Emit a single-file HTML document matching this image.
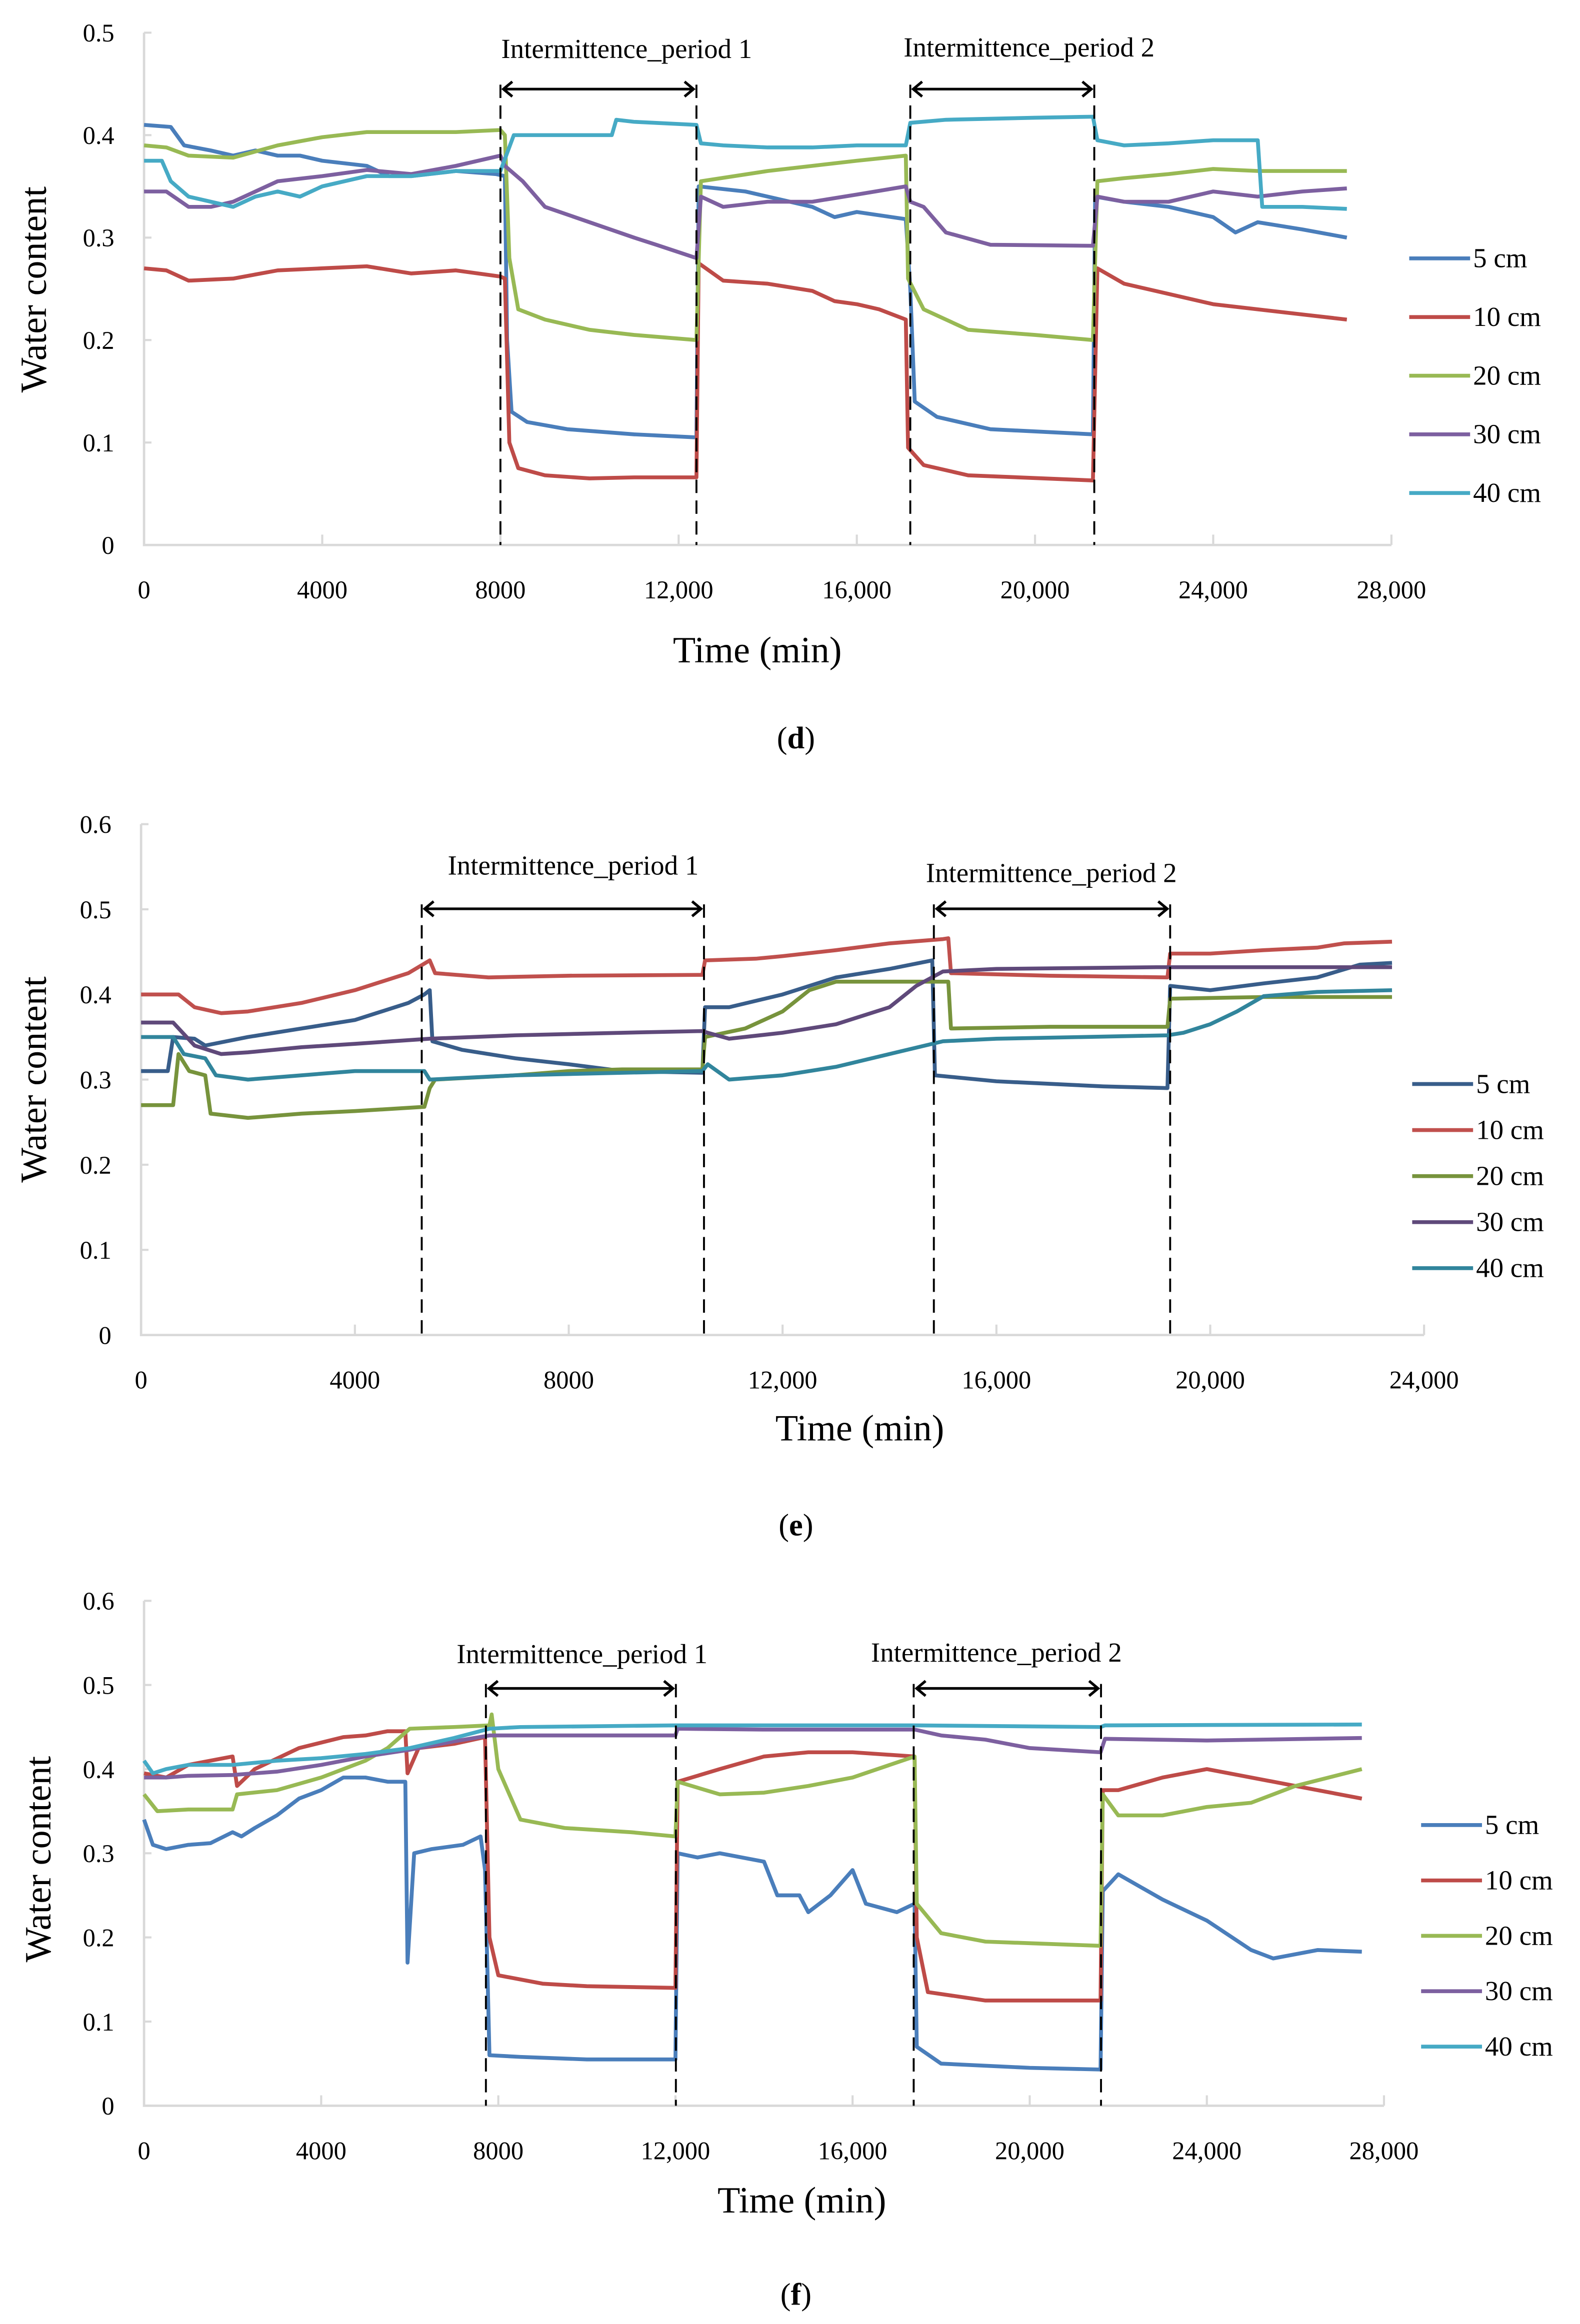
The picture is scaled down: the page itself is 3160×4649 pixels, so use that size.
<!DOCTYPE html>
<html><head><meta charset="utf-8"><style>
html,body{margin:0;padding:0;background:#fff;}
svg{display:block;}
text{font-family:"Liberation Serif",serif;fill:#000;}
</style></head><body>
<svg id="root" width="3160" height="4649" viewBox="0 0 1064 1565" preserveAspectRatio="none" xmlns="http://www.w3.org/2000/svg"></svg>
<script>
// ---------- Data: chart (d) ----------
const dTimeTicks = [0, 4000, 8000, 12000, 16000, 20000, 24000, 28000];
const dTickLabels = ["0", "4000", "8000", "12,000", "16,000", "20,000", "24,000", "28,000"];
const dYTicks = [0, 0.1, 0.2, 0.3, 0.4, 0.5];
const dYLabels = ["0", "0.1", "0.2", "0.3", "0.4", "0.5"];
const dPeriods = [[8000, 12400], [17200, 21330]];
const d5 = [[0,0.41],[0.6,0.408],[0.9,0.39],[1.5,0.385],[2,0.38],[2.5,0.385],[3,0.38],[3.5,0.38],[4,0.375],[5,0.37],[5.5,0.36],[6,0.36],[7,0.365],[7.9,0.362],[8.1,0.36],[8.15,0.2],[8.25,0.13],[8.6,0.12],[9.5,0.113],[11,0.108],[12.4,0.105],[12.45,0.35],[13.5,0.345],[14.5,0.335],[15,0.33],[15.5,0.32],[16,0.325],[17.1,0.318],[17.2,0.25],[17.3,0.14],[17.8,0.125],[19,0.113],[21.3,0.108],[21.35,0.34],[22,0.335],[23,0.33],[24,0.32],[24.5,0.305],[25,0.315],[26,0.308],[27,0.3]];
const d10 = [[0,0.27],[0.5,0.268],[1,0.258],[2,0.26],[3,0.268],[4,0.27],[5,0.272],[6,0.265],[7,0.268],[8,0.262],[8.1,0.26],[8.2,0.1],[8.4,0.075],[9,0.068],[10,0.065],[11,0.066],[12.4,0.066],[12.45,0.275],[13,0.258],[14,0.255],[15,0.248],[15.5,0.238],[16,0.235],[16.5,0.23],[17.1,0.22],[17.15,0.095],[17.5,0.078],[18.5,0.068],[21.3,0.063],[21.4,0.27],[22,0.255],[23,0.245],[24,0.235],[25,0.23],[26,0.225],[27,0.22]];
const d20 = [[0,0.39],[0.5,0.388],[1,0.38],[2,0.378],[3,0.39],[4,0.398],[5,0.403],[6,0.403],[7,0.403],[8,0.405],[8.1,0.4],[8.2,0.28],[8.4,0.23],[9,0.22],[10,0.21],[11,0.205],[12.4,0.2],[12.5,0.355],[14,0.365],[15,0.37],[16,0.375],[17.1,0.38],[17.15,0.26],[17.5,0.23],[18.5,0.21],[20,0.205],[21.3,0.2],[21.4,0.355],[22,0.358],[23,0.362],[24,0.367],[25,0.365],[27,0.365]];
const d30 = [[0,0.345],[0.5,0.345],[1,0.33],[1.5,0.33],[2,0.335],[2.5,0.345],[3,0.355],[4,0.36],[5,0.366],[6,0.362],[7,0.37],[8,0.38],[8.1,0.37],[8.5,0.355],[9,0.33],[10,0.315],[11,0.3],[11.5,0.293],[12.4,0.28],[12.5,0.34],[13,0.33],[14,0.335],[15,0.335],[16,0.342],[17.1,0.35],[17.2,0.335],[17.5,0.33],[18,0.305],[19,0.293],[21.3,0.292],[21.4,0.34],[22,0.335],[23,0.335],[24,0.345],[25,0.34],[26,0.345],[27,0.348]];
const d40 = [[0,0.375],[0.4,0.375],[0.6,0.355],[1,0.34],[1.5,0.335],[2,0.33],[2.5,0.34],[3,0.345],[3.5,0.34],[4,0.35],[5,0.36],[6,0.36],[7,0.365],[8,0.365],[8.3,0.4],[9,0.4],[10.5,0.4],[10.6,0.415],[11,0.413],[12.4,0.41],[12.5,0.392],[13,0.39],[14,0.388],[15,0.388],[16,0.39],[17.1,0.39],[17.2,0.412],[18,0.415],[20,0.417],[21.3,0.418],[21.4,0.395],[22,0.39],[23,0.392],[24,0.395],[25,0.395],[25.1,0.33],[26,0.33],[27,0.328]];

// ---------- Data: chart (e) ----------
const eTimeTicks = [0, 4000, 8000, 12000, 16000, 20000, 24000];
const eTickLabels = ["0", "4000", "8000", "12,000", "16,000", "20,000", "24,000"];
const eYTicks = [0, 0.1, 0.2, 0.3, 0.4, 0.5, 0.6];
const eYLabels = ["0", "0.1", "0.2", "0.3", "0.4", "0.5", "0.6"];
const ePeriods = [[5250, 10530], [14830, 19250]];
const e5 = [[0,0.31],[0.5,0.31],[0.6,0.35],[1,0.348],[1.2,0.34],[2,0.35],[3,0.36],[4,0.37],[5,0.39],[5.3,0.4],[5.4,0.405],[5.45,0.345],[6,0.335],[7,0.325],[8,0.318],[9,0.31],[10.5,0.308],[10.55,0.385],[11,0.385],[12,0.4],[13,0.42],[14,0.43],[14.8,0.44],[14.85,0.305],[16,0.298],[17,0.295],[18,0.292],[19.2,0.29],[19.25,0.41],[20,0.405],[21,0.413],[22,0.42],[22.8,0.435],[23.4,0.437]];
const e10 = [[0,0.4],[0.7,0.4],[1,0.385],[1.5,0.378],[2,0.38],[3,0.39],[4,0.405],[5,0.425],[5.4,0.44],[5.5,0.425],[6.5,0.42],[8,0.422],[10.5,0.423],[10.55,0.44],[11.5,0.442],[12,0.445],[13,0.452],[14,0.46],[15,0.465],[15.1,0.466],[15.15,0.425],[17,0.422],[19.2,0.42],[19.25,0.448],[20,0.448],[21,0.452],[22,0.455],[22.5,0.46],[23.4,0.462]];
const e20 = [[0,0.27],[0.6,0.27],[0.7,0.33],[0.9,0.31],[1.2,0.305],[1.3,0.26],[2,0.255],[3,0.26],[4,0.263],[5.3,0.268],[5.4,0.29],[5.5,0.3],[7,0.305],[8,0.31],[9,0.312],[10.5,0.312],[10.55,0.35],[11.3,0.36],[12,0.38],[12.5,0.405],[13,0.415],[15.1,0.415],[15.15,0.36],[17,0.362],[19.2,0.362],[19.25,0.395],[21,0.397],[23.4,0.397]];
const e30 = [[0,0.367],[0.6,0.367],[1,0.34],[1.5,0.33],[2,0.332],[3,0.338],[4,0.342],[5.4,0.348],[7,0.352],[9,0.355],[10.5,0.357],[10.6,0.355],[11,0.348],[12,0.355],[13,0.365],[14,0.385],[14.5,0.41],[15,0.427],[16,0.43],[19,0.432],[21,0.432],[23.4,0.432]];
const e40 = [[0,0.35],[0.6,0.35],[0.8,0.33],[1.2,0.325],[1.4,0.305],[2,0.3],[3,0.305],[4,0.31],[5.3,0.31],[5.4,0.3],[7,0.305],[9,0.308],[10.5,0.31],[10.6,0.318],[11,0.3],[12,0.305],[13,0.315],[14,0.33],[15,0.345],[16,0.348],[19.2,0.352],[19.5,0.355],[20,0.365],[20.5,0.38],[21,0.398],[22,0.403],[23.4,0.405]];

// ---------- Data: chart (f) ----------
const fTimeTicks = [0, 4000, 8000, 12000, 16000, 20000, 24000, 28000];
const fTickLabels = ["0", "4000", "8000", "12,000", "16,000", "20,000", "24,000", "28,000"];
const fYTicks = [0, 0.1, 0.2, 0.3, 0.4, 0.5, 0.6];
const fYLabels = ["0", "0.1", "0.2", "0.3", "0.4", "0.5", "0.6"];
const fPeriods = [[7720, 12010], [17380, 21610]];
const f5 = [[0,0.34],[0.2,0.31],[0.5,0.305],[1,0.31],[1.5,0.312],[2,0.325],[2.2,0.32],[2.5,0.33],[3,0.345],[3.5,0.365],[4,0.375],[4.5,0.39],[5,0.39],[5.5,0.385],[5.9,0.385],[5.95,0.17],[6.1,0.3],[6.5,0.305],[7.2,0.31],[7.6,0.32],[7.7,0.28],[7.8,0.06],[8.5,0.058],[10,0.055],[12,0.055],[12.05,0.3],[12.5,0.295],[13,0.3],[14,0.29],[14.3,0.25],[14.8,0.25],[15,0.23],[15.5,0.25],[16,0.28],[16.3,0.24],[17,0.23],[17.4,0.24],[17.45,0.07],[18,0.05],[20,0.045],[21.6,0.043],[21.65,0.255],[22,0.275],[23,0.245],[24,0.22],[25,0.185],[25.5,0.175],[26,0.18],[26.5,0.185],[27.5,0.183]];
const f10 = [[0,0.395],[0.5,0.39],[1,0.405],[2,0.415],[2.1,0.38],[2.5,0.4],[3.5,0.425],[4.5,0.438],[5,0.44],[5.5,0.445],[5.9,0.445],[5.95,0.395],[6.2,0.425],[7,0.43],[7.7,0.438],[7.8,0.2],[8,0.155],[9,0.145],[10,0.142],[12,0.14],[12.05,0.385],[13,0.4],[14,0.415],[15,0.42],[16,0.42],[17.4,0.415],[17.45,0.2],[17.7,0.135],[19,0.125],[21.6,0.125],[21.65,0.375],[22,0.375],[23,0.39],[24,0.4],[25,0.39],[26,0.38],[27.5,0.365]];
const f20 = [[0,0.37],[0.3,0.35],[1,0.352],[2,0.352],[2.1,0.37],[3,0.375],[4,0.39],[5,0.41],[5.5,0.425],[6,0.448],[7,0.45],[7.8,0.452],[7.85,0.465],[8,0.4],[8.5,0.34],[9.5,0.33],[11,0.325],[12,0.32],[12.05,0.385],[13,0.37],[14,0.372],[15,0.38],[16,0.39],[17.4,0.415],[17.45,0.24],[18,0.205],[19,0.195],[21.6,0.19],[21.65,0.37],[22,0.345],[23,0.345],[24,0.355],[25,0.36],[26,0.38],[27.5,0.4]];
const f30 = [[0,0.39],[0.5,0.39],[1,0.392],[2,0.393],[3,0.397],[4,0.405],[5,0.415],[6,0.423],[7,0.433],[7.8,0.44],[9,0.44],[12,0.44],[12.05,0.448],[14,0.447],[17.4,0.447],[18,0.44],[19,0.435],[20,0.425],[21.6,0.42],[21.7,0.436],[24,0.434],[27.5,0.437]];
const f40 = [[0,0.41],[0.2,0.395],[0.5,0.4],[1,0.405],[2,0.405],[3,0.41],[4,0.413],[5,0.418],[6,0.425],[7,0.437],[7.8,0.448],[8.5,0.45],[12,0.452],[17.4,0.452],[21.6,0.45],[21.7,0.452],[27.5,0.453]];

const seriesNames = ["5 cm", "10 cm", "20 cm", "30 cm", "40 cm"];

const NS = "http://www.w3.org/2000/svg";
const root = document.getElementById("root");
function mk(tag, parent, attrs) {
  const el = document.createElementNS(NS, tag);
  for (const k in attrs) el.setAttribute(k, attrs[k]);
  parent.appendChild(el);
  return el;
}

function drawChart(cfg) {
  const g = mk("g", root, {});
  
  
  const xS = t => cfg.left + (t - 0) / cfg.xMax * (cfg.right - cfg.left);
  const yS = v => cfg.bottom - v / cfg.yMax * (cfg.bottom - cfg.top);

  // axes
  const ax = mk("path", g, {d: `M${cfg.left},${yS(cfg.yMax)}V${cfg.bottom}H${cfg.right}`, fill: "none", stroke: "#d9d9d9", "stroke-width": 1.6});
  
  

  cfg.yTicks.forEach((v, i) => {
    const tk = mk("line", g, {x1: cfg.left, x2: cfg.left + 5, y1: yS(v), y2: yS(v), stroke: "#d9d9d9", "stroke-width": 1.4});
    
    
    const t = mk("text", g, {x: cfg.left - 20, y: yS(v) + 6, "text-anchor": "end", "font-size": 17});
    t.textContent = cfg.yLabels[i];
    
    
  });
  cfg.xTicks.forEach((v, i) => {
    const tk = mk("line", g, {x1: xS(v), x2: xS(v), y1: cfg.bottom, y2: cfg.bottom - 7, stroke: "#d9d9d9", "stroke-width": 1.4});
    
    
    const t = mk("text", g, {x: xS(v), y: cfg.bottom + 36, "text-anchor": "middle", "font-size": 17});
    t.textContent = cfg.xLabels[i];
    
    
  });

  // series
  cfg.series.forEach((s, i) => {
    const d = s.map((p, j) => (j ? "L" : "M") + xS(p[0] * 1000).toFixed(2) + "," + yS(p[1]).toFixed(2)).join("");
    const path = mk("path", g, {d: d, fill: "none", stroke: cfg.colors[i], "stroke-width": 2.6, "stroke-linejoin": "round"});
    
    
  });

  // periods
  cfg.periods.forEach((p, i) => {
    const x1 = xS(p[0]), x2 = xS(p[1]);
    [x1, x2].forEach(x => {
      const l = mk("line", g, {x1: x, x2: x, y1: cfg.arrowY - 3, y2: cfg.bottom, stroke: "#000", "stroke-width": 1.3, "stroke-dasharray": "9,5"});
      
      
    });
    const ar = mk("path", g, {d: `M${x1+2},${cfg.arrowY}H${x2-2}M${x1+8},${cfg.arrowY-5}L${x1+2},${cfg.arrowY}L${x1+8},${cfg.arrowY+5}M${x2-8},${cfg.arrowY-5}L${x2-2},${cfg.arrowY}L${x2-8},${cfg.arrowY+5}`, fill: "none", stroke: "#000", "stroke-width": 1.8});
    
    
    const t = mk("text", g, {x: cfg.labelX[i], y: cfg.labelY[i], "text-anchor": "middle", "font-size": 18.5});
    t.textContent = "Intermittence_period " + (i + 1);
    
    
  });

  // legend
  seriesNames.forEach((n, i) => {
    const y = cfg.legendY + i * cfg.legendStep;
    const l = mk("line", g, {x1: cfg.legendX, x2: cfg.legendX + 41, y1: y, y2: y, stroke: cfg.colors[i], "stroke-width": 2.6});
    
    
    const t = mk("text", g, {x: cfg.legendX + 43, y: y + 6, "font-size": 18.5});
    t.textContent = n;
    
    
  });

  // titles
  const yt = mk("text", g, {x: 0, y: 0, transform: `translate(${cfg.yTitleX},${cfg.yTitleY}) rotate(-90)`, "text-anchor": "middle", "font-size": 25});
  yt.textContent = "Water content";
  
  
  const xt = mk("text", g, {x: cfg.xTitleX, y: cfg.xTitleY, "text-anchor": "middle", "font-size": 25});
  xt.textContent = "Time (min)";
  
  
  const cap = mk("text", g, {x: 536, y: cfg.capY, "text-anchor": "middle", "font-size": 21});
  cap.innerHTML = '(<tspan font-weight="bold">' + cfg.cap + '</tspan>)';
  
  
}

drawChart({name: "chart-d", left: 97, right: 937, top: 22, bottom: 367, xMax: 28000, yMax: 0.5,
  xTicks: dTimeTicks, xLabels: dTickLabels, yTicks: dYTicks, yLabels: dYLabels,
  series: [d5, d10, d20, d30, d40], colors: ["#4A7EBB", "#BE4B48", "#98B954", "#7D60A0", "#46AAC5"],
  periods: dPeriods, arrowY: 60, labelX: [422, 693], labelY: [39, 38],
  legendX: 949, legendY: 174, legendStep: 39.5, yTitleX: 31, yTitleY: 195, xTitleX: 510, xTitleY: 446, cap: "d", capY: 504});

drawChart({name: "chart-e", left: 95, right: 959, top: 555, bottom: 899, xMax: 24000, yMax: 0.6,
  xTicks: eTimeTicks, xLabels: eTickLabels, yTicks: eYTicks, yLabels: eYLabels,
  series: [e5, e10, e20, e30, e40], colors: ["#385D8A", "#C0504D", "#77933C", "#5F497A", "#31859C"],
  periods: ePeriods, arrowY: 612, labelX: [386, 708], labelY: [589, 594],
  legendX: 951, legendY: 730, legendStep: 31, yTitleX: 31, yTitleY: 727, xTitleX: 579, xTitleY: 970, cap: "e", capY: 1034});

drawChart({name: "chart-f", left: 97, right: 932, top: 1078, bottom: 1418, xMax: 28000, yMax: 0.6,
  xTicks: fTimeTicks, xLabels: fTickLabels, yTicks: fYTicks, yLabels: fYLabels,
  series: [f5, f10, f20, f30, f40], colors: ["#4A7EBB", "#BE4B48", "#98B954", "#7D60A0", "#46AAC5"],
  periods: fPeriods, arrowY: 1137, labelX: [392, 671], labelY: [1120, 1119],
  legendX: 957, legendY: 1229, legendStep: 37.3, yTitleX: 34, yTitleY: 1252, xTitleX: 540, xTitleY: 1490, cap: "f", capY: 1552});
</script>
</body></html>
